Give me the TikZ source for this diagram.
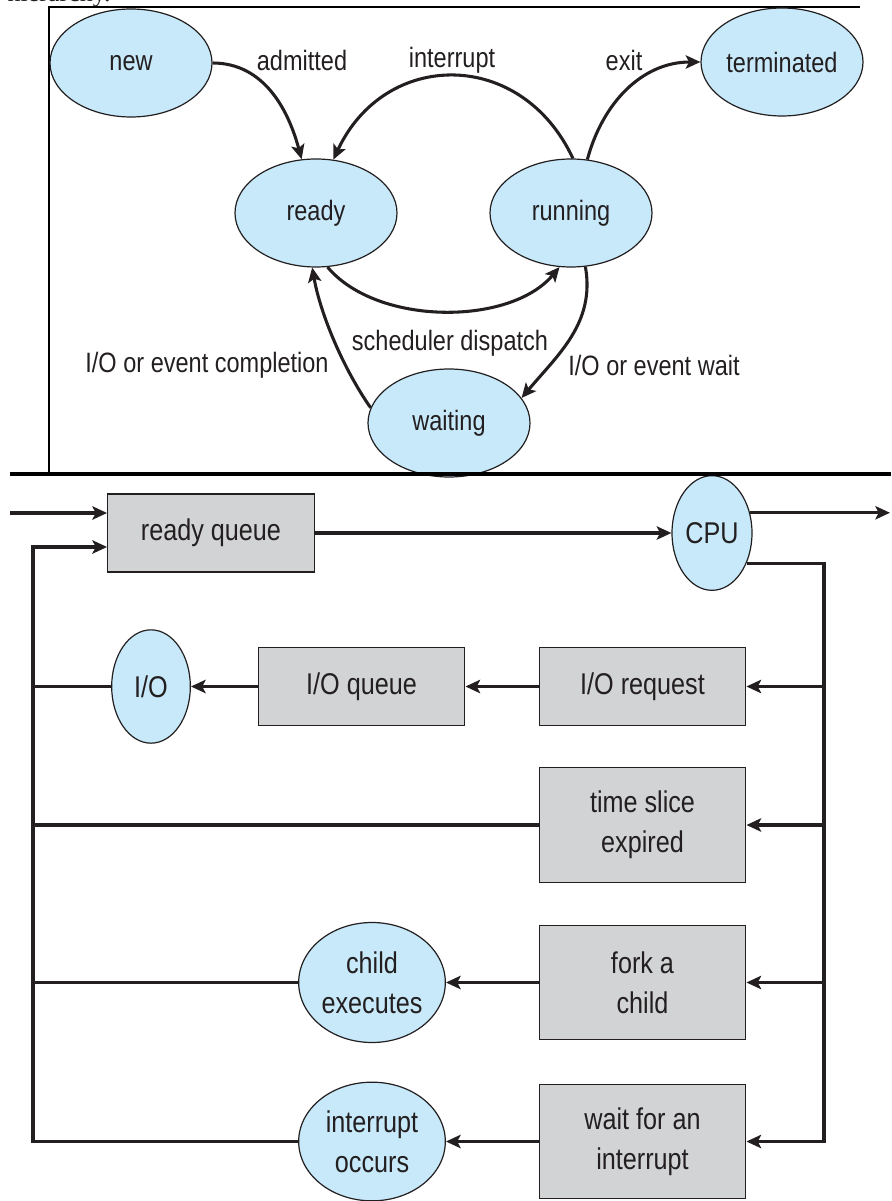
\documentclass[tikz,border=0pt]{standalone}
\usepackage{fontspec}
\setmainfont[FakeStretch=0.84]{Liberation Sans}
\newfontfamily\captionserif{Liberation Serif}
\usetikzlibrary{arrows.meta,shapes.geometric}

\definecolor{stateblue}{HTML}{C7E9F9}
\definecolor{queuegray}{HTML}{D1D3D4}
\definecolor{inkgray}{HTML}{231F20}
\newcommand\labelfont{\fontsize{21}{30}\selectfont}
\newcommand\queuefont{\fontsize{22.5}{30}\selectfont}

\tikzset{
  statenode/.style={ellipse, draw=inkgray, line width=0.9pt, fill=stateblue,
    minimum width=121.5pt, minimum height=81pt, inner sep=0pt},
  devnode/.style={ellipse, draw=inkgray, line width=0.9pt, fill=stateblue,
    inner sep=0pt, align=center, font=\queuefont},
  queuebox/.style={rectangle, draw=inkgray, line width=0.9pt, fill=queuegray,
    minimum width=155pt, inner sep=0pt, align=center, font=\queuefont},
  wire/.style={draw=inkgray, line width=2.3pt},
  flow/.style={wire, -{Stealth[length=11pt,width=10pt,inset=2.5pt]}}
}

\begin{document}
\begin{tikzpicture}[x=0.75pt, y=0.75pt, every node/.style={text=inkgray, font=\labelfont}]
    \useasboundingbox (0,-1201) rectangle (891,0);
    \clip (0,-1201) rectangle (891,0);

    % Caption fragment cut at the top
    \node[anchor=base west, font=\captionserif\fontsize{19.5}{20}\selectfont] (caption) at (3,-2) {hierarchy.};

    % Frame of the state diagram
    \draw[line width=0.9pt] (49,-474) -- (49,-7) -- (860,-7);

    % Process states
    \node[statenode] (new) at (131,-63) {new};
    \node[statenode] (terminated) at (782,-62) {terminated};
    \node[statenode] (ready) at (316,-213) {ready};
    \node[statenode] (running) at (571,-213) {running};
    \node[statenode] (waiting) at (449,-423) {waiting};

    % Transitions
    \draw[flow] (new.east) to[out=0, in=105] (ready.105);
    \draw[flow] (running.88) to[out=115, in=65, looseness=1.3] (ready.72);
    \draw[flow] (running.73) to[out=75, in=180] (terminated.west);
    \draw[flow] (ready.-78) to[out=-50, in=-130, looseness=0.85] (running.-102);
    \draw[flow] (running.-75) to[out=-80, in=50] (waiting.19);
    \draw[flow] (waiting.169) to[out=125, in=-80, looseness=0.8] (ready.-94);

    % Transition labels
    \node (admitted) at (302,-60) {admitted};
    \node (interrupt) at (452,-60) {interrupt};
    \node (exit) at (624,-60) {exit};
    \node (dispatch) at (450,-343) {scheduler dispatch};
    \node (completion) at (207,-365) {I/O or event completion};
    \node (eventwait) at (654,-365) {I/O or event wait};

    % Queueing diagram
    \node[queuebox, minimum height=58.5pt] (rq) at (211,-533) {ready queue};
    \node[devnode, minimum width=60pt, minimum height=86pt] (cpu) at (712,-533) {CPU};
    \node[queuebox, minimum height=59pt] (ioreq) at (642.5,-686.5) {I/O request};
    \node[queuebox, minimum height=59pt] (ioq) at (361.5,-686.5) {I/O queue};
    \node[devnode, minimum width=59pt, minimum height=85pt] (io) at (151,-686.5) {I/O};
    \node[queuebox, minimum height=86pt] (slice) at (642.5,-825) {time slice\\expired};
    \node[queuebox, minimum height=86pt] (fork) at (642.5,-982.5) {fork a\\child};
    \node[devnode, minimum width=110pt, minimum height=90pt] (child) at (372,-982.5) {child\\executes};
    \node[queuebox, minimum height=86pt] (wfi) at (642.5,-1141.5) {wait for an\\interrupt};
    \node[devnode, minimum width=110pt, minimum height=89pt] (intocc) at (372,-1141.5) {interrupt\\occurs};

    % Side rails
    \coordinate (entry) at (10,-513);
    \coordinate (exitpt) at (890,-513);
    \coordinate (lrail) at (33,-547);
    \coordinate (rrail) at (824,-563);

    \draw[flow] (entry) -- (entry -| rq.west);
    \draw[flow] (rq.east) -- (cpu.west);
    \draw[flow] (cpu.28) -- (cpu.28 -| exitpt);
    \draw[flow] (cpu.-41) -| (wfi.east -| rrail) -- (wfi.east);
    \draw[flow] (ioreq.east -| rrail) -- (ioreq.east);
    \draw[flow] (slice.east -| rrail) -- (slice.east);
    \draw[flow] (fork.east -| rrail) -- (fork.east);

    \draw[flow] (ioreq.west) -- (ioq.east);
    \draw[flow] (ioq.west) -- (io.east);
    \draw[flow] (fork.west) -- (child.east);
    \draw[flow] (wfi.west) -- (intocc.east);

    \draw[wire] (io.west) -- (io.west -| lrail);
    \draw[wire] (slice.west) -- (slice.west -| lrail);
    \draw[wire] (child.west) -- (child.west -| lrail);
    \draw[flow] (intocc.west) -| (lrail) -- (lrail -| rq.west);

    % Divider between the two diagrams
    \draw[line width=3.5pt] (10,-474) -- (891,-474);
\end{tikzpicture}
\end{document}
